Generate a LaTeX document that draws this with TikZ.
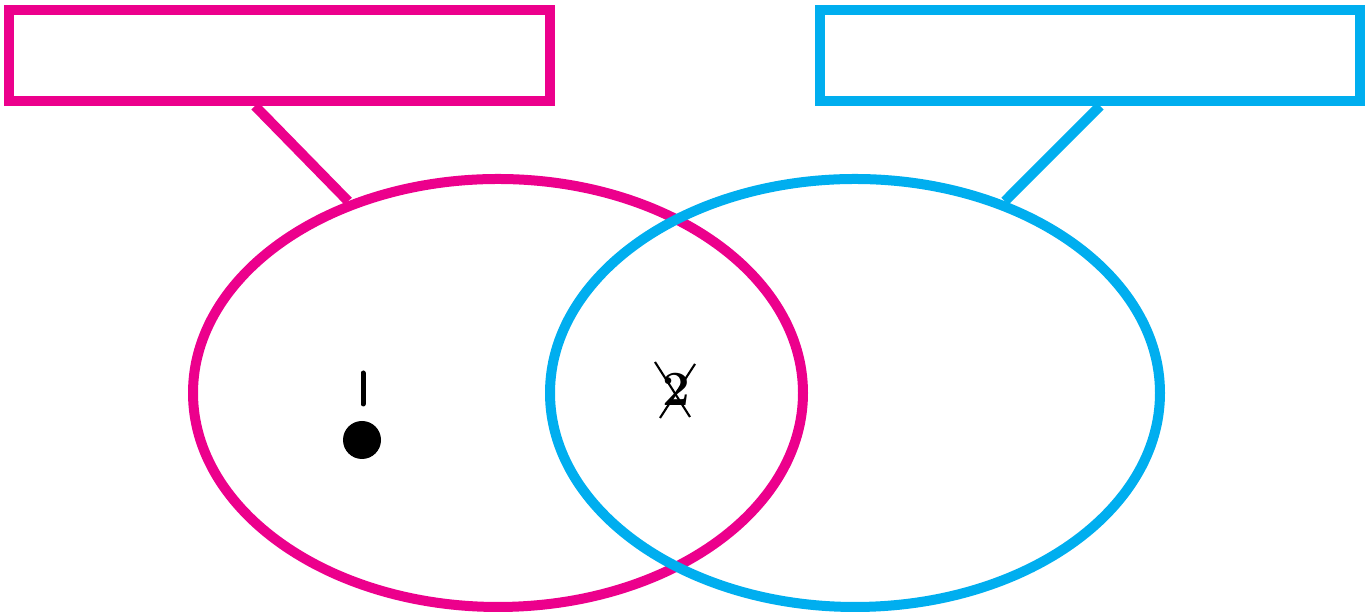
\documentclass[tikz,border=0pt]{standalone}
\usetikzlibrary{shapes.geometric,calc}
\definecolor{setpink}{HTML}{EC008C}
\definecolor{setblue}{HTML}{00AEEF}
\tikzset{
    setshape/.style={draw, ellipse, line width=0.2cm, minimum width=12.2cm, minimum height=8.56cm, inner sep=0pt},
    labelbox/.style={draw, rectangle, line width=0.2cm, minimum width=10.8cm, minimum height=1.82cm, inner sep=0pt},
    tieline/.style={line width=0.2cm}
}
\begin{document}
\begin{tikzpicture}
        \useasboundingbox (0,0) rectangle (27.38,12.28);
        % the two sets
        \node[setshape, setpink] (pinkset) at (9.96,4.42) {};
        \node[setshape, setblue] (blueset) at (17.1,4.42) {};
        % label boxes and their ties
        \node[labelbox, setpink] (pinklabel) at (5.59,11.17) {};
        \node[labelbox, setblue] (bluelabel) at (21.79,11.17) {};
        \coordinate (pinktie) at ($(pinklabel.south)+(-0.49,0)$);
        \coordinate (bluetie) at ($(bluelabel.south)+(0.21,0)$);
        \draw[tieline, setpink] (pinktie) -- (pinkset.128);
        \draw[tieline, setblue] (bluetie) -- (blueset.52.5);
        % the marks inside
        \draw[line width=0.1cm, line cap=round] (7.26,4.82) -- (7.26,4.2);
        \fill (7.24,3.48) circle (0.38);
        \node[font=\fontsize{28}{28}\selectfont\bfseries] (two) at (13.52,4.5) {2};
        \draw[line width=1.2pt] (13.1,5.04) -- (13.8,3.94);
        \draw[line width=1.2pt] (13.9,5.0) -- (13.2,3.92);
    \end{tikzpicture}
\end{document}
